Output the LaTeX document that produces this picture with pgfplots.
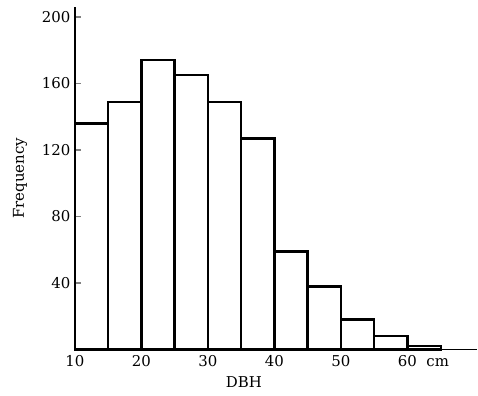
\documentclass[border=0pt]{standalone}
\usepackage{fontspec}
\setmainfont{DejaVu Serif}
\usepackage{pgfplots}
\pgfplotsset{compat=1.18}
\begin{document}
\begin{tikzpicture}
\begin{axis}[
  scale only axis,
  width=403bp, height=343bp,
  xmin=10, xmax=70.5, ymin=0, ymax=206,
  axis lines=left,
  axis line style={-, line width=1.4pt},
  xtick={10,20,30,40,50,60},
  xticklabels={10,20,30,40,50,{60\rlap{\ \ cm}}},
  xtick style={draw=none},
  ytick={40,80,120,160,200},
  ytick style={line width=1.4pt},
  tick align=inside,
  major tick length=6bp,
  tick label style={font=\fontsize{15}{18}\selectfont},
  /pgf/number format/assume math mode=true,
  xticklabel style={yshift=-2bp},
  yticklabel style={xshift=-1bp},
  xlabel={DBH},
  ylabel={Frequency},
  label style={font=\fontsize{15}{18}\selectfont},
  xlabel style={at={(axis description cs:0.42,-0.068)}, anchor=north},
  ylabel style={at={(axis description cs:-0.136,0.5)}, anchor=center},
  clip=false,
]
\addplot[ybar interval, fill=none, draw=black, line width=2.4pt] coordinates {
  (10,136) (15,149) (20,174) (25,165) (30,149) (35,127)
  (40,59) (45,38) (50,18) (55,8) (60,2) (65,2)
};
\path (axis description cs:-0.186,0.5) coordinate (bbleft);
\path (axis description cs:0,1) ++(0,7bp) coordinate (bbtop);
\path (axis description cs:0,0) ++(0,-46bp) coordinate (bbbottom);
\end{axis}
\end{tikzpicture}
\end{document}
